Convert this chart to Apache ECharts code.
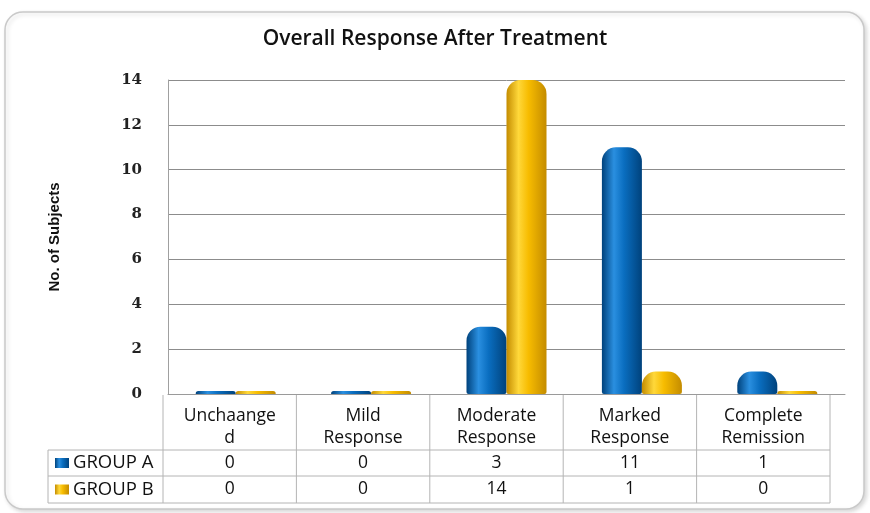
<!DOCTYPE html>
<html>
<head>
<meta charset="utf-8">
<title>Overall Response After Treatment</title>
<script src="https://cdn.jsdelivr.net/npm/echarts@6/dist/echarts.min.js"></script>
<style>
    html, body { margin: 0; padding: 0; background: #fff; }
    #chart { width: 870px; height: 513px; }
</style>
</head>
<body>
<div id="chart"></div>
<script>
// data
const categories = ['Unchaange\nd', 'Mild\nResponse', 'Moderate\nResponse', 'Marked\nResponse', 'Complete\nRemission'];
const groupA = [0, 0, 3, 11, 1];
const groupB = [0, 0, 14, 1, 0];
const seriesNames = ['GROUP A', 'GROUP B'];
const yMin = 0, yMax = 14, yStep = 2;

// cylinder look: horizontal gradient
const cyl = (edge, mid, light) => new echarts.graphic.LinearGradient(0, 0, 1, 0, [
    { offset: 0, color: edge },
    { offset: 0.3, color: light },
    { offset: 0.55, color: mid },
    { offset: 1, color: edge }
]);
const blue = cyl('#00427c', '#0a6ec0', '#2a8fe0');
const yellow = cyl('#c48c00', '#f7bc00', '#ffd83a');

// data table under the plot
const tbl = { x0: 163, x1: 830, label0: 48, head: 395, r1: 450, r2: 476, r3: 503 };
const colW = (tbl.x1 - tbl.x0) / categories.length;
const font = '17.5px "Open Sans", sans-serif';
const lineStyle = { stroke: '#b4b4b4', lineWidth: 1 };

const graphic = [];
graphic.push({
    type: 'rect', z: -10, silent: true,
    shape: { x: 5, y: 12, width: 859, height: 497, r: 18 },
    style: { fill: '#fff', stroke: '#c9c9c9', lineWidth: 1.5, shadowColor: 'rgba(0,0,0,0.15)', shadowBlur: 4, shadowOffsetX: 2, shadowOffsetY: 2 }
});
[tbl.r1, tbl.r2, tbl.r3].forEach(y => {
    graphic.push({ type: 'line', silent: true, shape: { x1: tbl.label0, y1: y, x2: tbl.x1, y2: y }, style: lineStyle });
});
for (let i = 0; i <= categories.length; i++) {
    const x = tbl.x0 + i * colW;
    graphic.push({ type: 'line', silent: true, shape: { x1: x, y1: tbl.head, x2: x, y2: tbl.r3 }, style: lineStyle });
}
graphic.push({ type: 'line', silent: true, shape: { x1: tbl.label0, y1: tbl.r1, x2: tbl.label0, y2: tbl.r3 }, style: lineStyle });

categories.forEach((c, i) => {
    const cx = tbl.x0 + (i + 0.5) * colW;
    graphic.push({ type: 'text', silent: true, x: cx, y: (tbl.head + tbl.r1) / 2 + 5,
        style: { text: c, align: 'center', verticalAlign: 'middle', font: font, fill: '#111', lineHeight: 22 } });
    [groupA, groupB].forEach((arr, r) => {
        const y = r === 0 ? (tbl.r1 + tbl.r2) / 2 : (tbl.r2 + tbl.r3) / 2;
        graphic.push({ type: 'text', silent: true, x: cx, y: y,
            style: { text: String(arr[i]), align: 'center', verticalAlign: 'middle', font: font, fill: '#111' } });
    });
});
seriesNames.forEach((n, r) => {
    const y = r === 0 ? (tbl.r1 + tbl.r2) / 2 : (tbl.r2 + tbl.r3) / 2;
    graphic.push({ type: 'rect', silent: true, shape: { x: 55, y: y - 5, width: 14, height: 10 },
        style: { fill: r === 0 ? blue : yellow } });
    graphic.push({ type: 'text', silent: true, x: 73, y: y,
        style: { text: n, align: 'left', verticalAlign: 'middle', font: '18.5px "Open Sans", sans-serif', fill: '#111' } });
});

const chart = echarts.init(document.getElementById('chart'), null, { renderer: 'canvas' });
chart.setOption({
    backgroundColor: '#fff',
    animation: false,
    title: {
        text: 'Overall Response After Treatment',
        left: 'center', top: 24,
        textStyle: { fontFamily: 'Open Sans', fontWeight: 600, fontSize: 21, color: '#111' }
    },
    grid: { left: 168, right: 25, top: 80, bottom: 119 },
    xAxis: {
        type: 'category',
        data: categories,
        axisLine: { show: true, lineStyle: { color: '#9a9a9a' } },
        axisTick: { show: false },
        axisLabel: { show: false }
    },
    yAxis: {
        type: 'value',
        min: yMin, max: yMax, interval: yStep,
        name: 'No. of Subjects',
        nameLocation: 'middle',
        nameRotate: 90,
        nameGap: 106,
        nameTextStyle: { fontFamily: '"Liberation Sans", sans-serif', fontWeight: 'bold', fontSize: 15, color: '#111' },
        axisLine: { show: true, lineStyle: { color: '#a0a0a0' } },
        axisTick: { show: false },
        axisLabel: { margin: 26, fontFamily: '"DejaVu Serif", serif', fontWeight: 'bold', fontSize: 15, color: '#222' },
        splitLine: { lineStyle: { color: '#8c8c8c', width: 1 } }
    },
    series: [
        { name: seriesNames[0], type: 'bar', data: groupA, barWidth: 40, barGap: '0%', barMinHeight: 3,
          itemStyle: { color: blue, borderRadius: [14, 14, 2, 2] } },
        { name: seriesNames[1], type: 'bar', data: groupB, barWidth: 40, barGap: '0%', barMinHeight: 3,
          itemStyle: { color: yellow, borderRadius: [14, 14, 2, 2] } }
    ],
    graphic: graphic
});
</script>
</body>
</html>
